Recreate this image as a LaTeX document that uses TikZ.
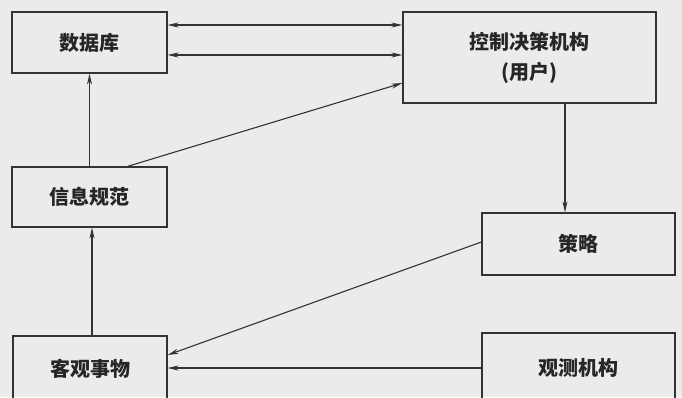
\documentclass[tikz,border=0pt]{standalone}
\usepackage{fontspec}
\setmainfont{Noto Sans CJK SC}
\usepackage{tikz}
\usetikzlibrary{arrows.meta,shapes}

\begin{document}
\begin{tikzpicture}[x=1bp,y=-1bp,
  box/.style={draw=black!80,line width=1.2bp,inner sep=0pt,text=black!85,
    font=\fontsize{20bp}{30bp}\selectfont\bfseries,align=center},
  link/.style={line width=1.1bp,draw=black!80},
  >={Stealth[length=11bp,width=5bp]}]
\useasboundingbox (0,0) rectangle (682,397);
\fill [black!8] (0,0) rectangle (682,397);
\node (db) at (89.5,42.5) [box,minimum width=155bp,minimum height=61bp] {数据库};
\node (ctrl) at (529.5,57.5) [box,minimum width=253bp,minimum height=91bp] {控制决策机构\\(用户)};
\node (info) at (89.5,197) [box,minimum width=155bp,minimum height=60bp] {信息规范};
\node (strat) at (578.5,244) [box,minimum width=193bp,minimum height=62bp] {策略};
\node (obj) at (90,369) [box,minimum width=154bp,minimum height=66bp] {客观事物};
\node (obs) at (578.5,368) [box,minimum width=193bp,minimum height=70bp] {观测机构};
\draw [<->,link] ([yshift=17.5bp]db.east) -- ([yshift=17.5bp]db.east -| ctrl.west);
\draw [<->,link] ([yshift=-12.5bp]db.east) -- ([yshift=-12.5bp]db.east -| ctrl.west);
\draw [->,link] (info.north) -- (db.south);
\draw [->,link] ([xshift=38bp]info.north) -- ([yshift=-25.5bp]ctrl.west);
\draw [->,link] ([xshift=35.5bp]ctrl.south) -- ([xshift=35.5bp]ctrl.south |- strat.north);
\draw [->,link] ([yshift=2bp]strat.west) -- ([yshift=14bp]obj.east);
\draw [->,link] (obs.west) -- (obs.west -| obj.east);
\draw [->,link] ([xshift=2bp]obj.north) -- ([xshift=2bp]obj.north |- info.south);
\end{tikzpicture}
\end{document}
